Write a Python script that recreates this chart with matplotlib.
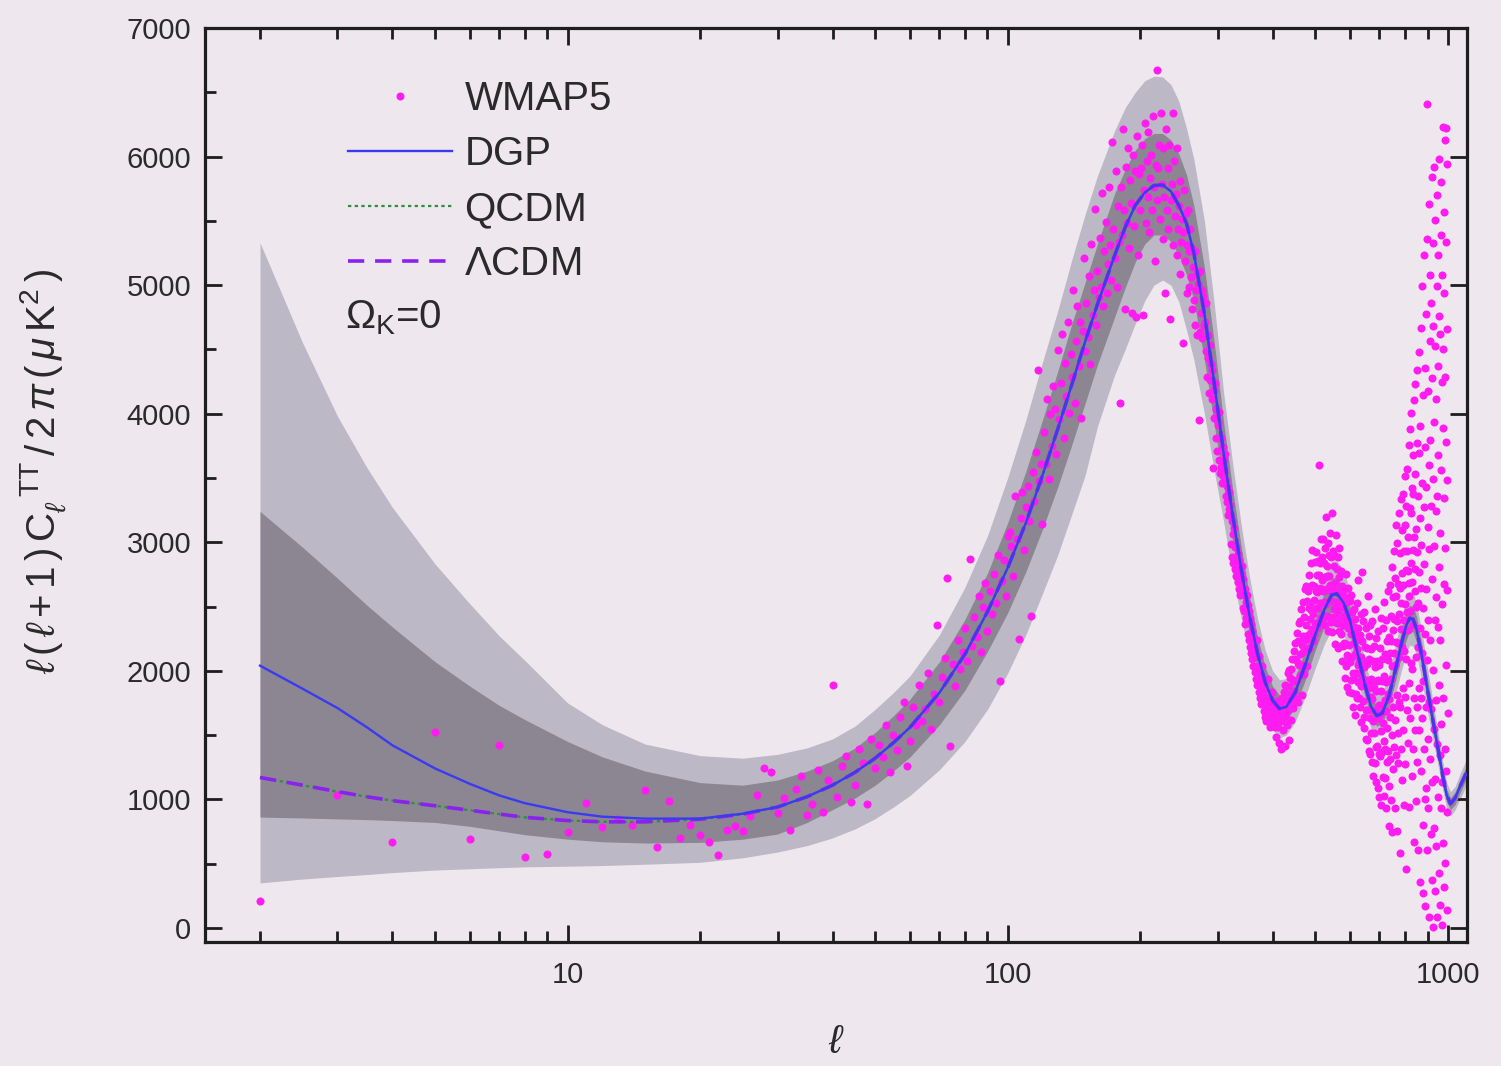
import numpy as np
import matplotlib
matplotlib.use("Agg")
import matplotlib.pyplot as plt
from matplotlib.lines import Line2D

plt.rcParams['font.family'] = ['Liberation Sans', 'DejaVu Sans']
plt.rcParams['mathtext.fontset'] = 'custom'
plt.rcParams['mathtext.rm'] = 'Liberation Sans'
plt.rcParams['mathtext.it'] = 'Liberation Sans:italic'
plt.rcParams['mathtext.bf'] = 'Liberation Sans:bold'

# ---------------- model grid (multipole l) ----------------
ell_grid = [2, 2.5, 3, 3.5, 4, 5, 6, 7, 8, 10,
            12, 15, 20, 25, 30, 35, 40, 45, 50, 55,
            60, 70, 80, 90, 100, 110, 120, 130, 140, 150,
            160, 175, 185, 195, 205, 215, 225, 235, 245, 255,
            265, 280, 295, 310, 325, 340, 355, 370, 385, 400,
            415, 430, 450, 475, 500, 525, 545, 560, 580, 600,
            625, 650, 670, 690, 710, 735, 760, 785, 805, 820,
            835, 850, 875, 900, 925, 950, 975, 995, 1015, 1040,
            1070, 1100]

lcdm_D = [1170, 1110, 1060, 1020, 990, 950, 915, 885, 860, 835,
          825, 825, 845, 885, 940, 1020, 1110, 1210, 1320, 1440,
          1560, 1830, 2130, 2460, 2800, 3150, 3520, 3880, 4230, 4560,
          4850, 5230, 5450, 5620, 5720, 5775, 5780, 5730, 5620, 5480,
          5250, 4780, 4230, 3680, 3200, 2780, 2420, 2130, 1910, 1770,
          1705, 1720, 1830, 2050, 2280, 2480, 2590, 2600, 2530, 2390,
          2130, 1880, 1720, 1650, 1670, 1800, 2000, 2210, 2350, 2410,
          2400, 2320, 2100, 1850, 1620, 1400, 1180, 1030, 965, 1010,
          1110, 1200]

# QCDM coincides with LCDM in the figure
qcdm_D = [1170, 1110, 1060, 1020, 990, 950, 915, 885, 860, 835,
          825, 825, 845, 885, 940, 1020, 1110, 1210, 1320, 1440,
          1560, 1830, 2130, 2460, 2800, 3150, 3520, 3880, 4230, 4560,
          4850, 5230, 5450, 5620, 5720, 5775, 5780, 5730, 5620, 5480,
          5250, 4780, 4230, 3680, 3200, 2780, 2420, 2130, 1910, 1770,
          1705, 1720, 1830, 2050, 2280, 2480, 2590, 2600, 2530, 2390,
          2130, 1880, 1720, 1650, 1670, 1800, 2000, 2210, 2350, 2410,
          2400, 2320, 2100, 1850, 1620, 1400, 1180, 1030, 965, 1010,
          1110, 1200]

# DGP differs only at low l
dgp_low = [2040, 1860, 1710, 1560, 1420, 1240, 1120, 1030, 970, 900, 865, 850, 850, 888]
dgp_D = dgp_low + lcdm_D[len(dgp_low):]

# cosmic-variance bands (outer = light, inner = dark)
outer_hi = [5330, 4550, 3980, 3580, 3270, 2830, 2520, 2270, 2080, 1750,
            1580, 1430, 1340, 1320, 1350, 1400, 1470, 1570, 1700, 1830,
            1960, 2280, 2650, 3050, 3500, 3950, 4400, 4800, 5200, 5550,
            5850, 6200, 6380, 6500, 6590, 6625, 6620, 6560, 6430, 6220,
            5980, 5500, 4850, 4150, 3600, 3120, 2720, 2400, 2160, 2000,
            1930, 1940, 2060, 2290, 2530, 2740, 2850, 2860, 2780, 2620,
            2340, 2070, 1890, 1810, 1830, 1970, 2190, 2410, 2560, 2620,
            2610, 2520, 2290, 2020, 1770, 1530, 1290, 1130, 1060, 1100,
            1210, 1300]
outer_lo = [350, 380, 400, 415, 430, 450, 460, 468, 475, 480,
            485, 495, 510, 545, 590, 640, 700, 770, 850, 940,
            1030, 1230, 1450, 1700, 1980, 2280, 2600, 2900, 3220, 3520,
            3900, 4300, 4500, 4700, 4880, 5000, 5040, 5000, 4870, 4650,
            4420, 4000, 3550, 3150, 2730, 2400, 2110, 1850, 1660, 1540,
            1480, 1500, 1600, 1800, 2020, 2210, 2320, 2340, 2280, 2160,
            1920, 1690, 1550, 1490, 1510, 1630, 1810, 2000, 2140, 2200,
            2190, 2120, 1910, 1680, 1470, 1270, 1070, 930, 870, 920,
            1010, 1100]
inner_hi = [3240, 2960, 2720, 2510, 2340, 2070, 1880, 1730, 1620, 1450,
            1330, 1220, 1130, 1110, 1150, 1220, 1300, 1400, 1520, 1650,
            1780, 2070, 2400, 2760, 3150, 3550, 3950, 4330, 4700, 5020,
            5320, 5710, 5900, 6050, 6140, 6180, 6180, 6130, 6020, 5860,
            5620, 5140, 4550, 3920, 3400, 2950, 2570, 2260, 2030, 1880,
            1810, 1830, 1940, 2170, 2400, 2610, 2720, 2730, 2650, 2500,
            2230, 1970, 1800, 1730, 1750, 1880, 2090, 2310, 2460, 2510,
            2500, 2420, 2190, 1940, 1700, 1470, 1230, 1080, 1010, 1060,
            1160, 1250]
inner_lo = [862, 855, 848, 842, 835, 820, 790, 755, 725, 690,
            670, 660, 665, 690, 730, 820, 920, 1010, 1110, 1220,
            1330, 1580, 1850, 2150, 2450, 2770, 3100, 3430, 3760, 4080,
            4380, 4750, 4980, 5180, 5320, 5390, 5390, 5340, 5230, 5080,
            4880, 4420, 3910, 3430, 3000, 2610, 2270, 2000, 1790, 1660,
            1600, 1610, 1720, 1930, 2160, 2350, 2460, 2470, 2410, 2280,
            2030, 1790, 1640, 1570, 1590, 1720, 1910, 2110, 2240, 2310,
            2300, 2220, 2010, 1760, 1540, 1330, 1130, 980, 920, 960,
            1060, 1150]

# ---------------- WMAP5 points, l = 2 ... 1000 ----------------
wmap_D = [
    210, 1035, 670, 1520, 690, 1425, 550, 575, 745, 970, 785, 845, 800, 1075, 630,
    990, 700, 800, 720, 670, 570, 760, 790, 755, 870, 1035, 1240, 1210, 895,
    # 31-100
    1010, 760, 1080, 1180, 880, 960, 1230, 900, 1150, 1890,
    1020, 1260, 1340, 980, 1110, 1390, 1280, 960, 1470, 1240,
    1420, 1330, 1580, 1210, 1500, 1380, 1640, 1760, 1260, 1450,
    1720, 1580, 1890, 1610, 1700, 1980, 1550, 1820, 2360, 1760,
    1950, 2100, 2720, 1415, 2050, 1880, 2240, 2010, 2150, 2330,
    2080, 2870, 2190, 2420, 2260, 2580, 2150, 2500, 2680, 2310,
    2620, 2440, 2750, 2530, 2900, 1920, 2700, 2860, 2580, 3050,
    # 101-200
    3083, 2968, 2741, 3362, 3027, 2245, 3188, 3391, 2936, 3274,
    3437, 3166, 2424, 3548, 3319, 3702, 4340, 3473, 3612, 3141,
    3861, 3607, 4118, 3489, 3994, 3752, 4213, 4036, 3683, 4497,
    3962, 4237, 4618, 3809, 4391, 4139, 4712, 4008, 4466, 4287,
    4963, 4087, 4562, 4834, 4371, 4713, 3966, 4641, 5214, 4488,
    4861, 4593, 5068, 4387, 5317, 4771, 4962, 5594, 4688, 5113,
    4911, 5363, 4987, 5716, 4839, 5262, 5488, 4941, 5167, 5763,
    5312, 5038, 6114, 5437, 5213, 5889, 4987, 5612, 5338, 4080,
    5762, 5391, 6213, 5588, 4812, 5917, 5486, 6063, 5289, 5814,
    5637, 4780, 6012, 5463, 5886, 4750, 6161, 5238, 5863, 5587,
    # 201-280
    5912, 6087, 4765, 5738, 6263, 5487, 5963, 5688, 6192, 5412,
    5837, 6013, 5588, 6312, 5763, 5187, 5938, 6670, 5662, 5913,
    6087, 5512, 6338, 5787, 5362, 6063, 5688, 4940, 6213, 5588,
    5912, 5437, 6088, 4740, 5662, 5787, 6337, 5312, 5963, 5537,
    5712, 5237, 6063, 5438, 5612, 5087, 5813, 5338, 5512, 4550,
    5412, 5737, 5188, 5563, 4937, 5312, 5587, 4988, 5263, 5437,
    5062, 5287, 4812, 5138, 4887, 5262, 4688, 4963, 5087, 4612,
    5012, 3950, 4637, 5113, 4787, 4962, 4588, 4913, 4687, 4862,
    # 281-430
    4713, 4487, 4862, 4288, 4613, 4437, 4162, 4537, 4263, 4388,
    4112, 4337, 3580, 4188, 3963, 4237, 3812, 4038, 3713, 3937,
    3912, 3637, 4013, 3538, 3812, 3588, 3462, 3737, 3513, 3637,
    3562, 3688, 3362, 3487, 3312, 3438, 3212, 3388, 3262, 3288,
    3212, 2988, 3162, 2888, 3062, 2838, 3112, 2788, 2962, 2738,
    2962, 2738, 2912, 2688, 2862, 2638, 2812, 2588, 2762, 2688,
    2812, 2488, 2712, 2588, 2462, 2638, 2362, 2538, 2412, 2588,
    2512, 2288, 2462, 2238, 2412, 2188, 2362, 2138, 2312, 2088,
    2262, 2038, 2212, 1988, 2162, 1938, 2112, 2238, 1888, 2038,
    2012, 1838, 2112, 1788, 1962, 1738, 1912, 2038, 1788, 1862,
    1812, 1688, 1912, 1638, 1862, 1738, 1612, 1788, 1712, 1938,
    1662, 1738, 1612, 1788, 1562, 1688, 1662, 1838, 1612, 1738,
    1712, 1588, 1662, 1738, 1562, 1688, 1612, 1488, 1762, 1638,
    1562, 1688, 1612, 1438, 1762, 1638, 1612, 1388, 1712, 1788,
    1662, 1538, 1762, 1838, 1612, 1688, 1412, 1888, 1762, 1638,
    # 431-1000
    1817, 1577, 1986, 1692, 1879, 1459, 2004, 1735, 1944, 1619,
    2017, 1777, 1736, 2092, 1929, 1709, 2154, 1835, 2094, 1919,
    2217, 1777, 2086, 2292, 1929, 2059, 1754, 2235, 2044, 2369,
    1967, 2127, 2386, 2042, 2479, 1809, 2204, 2535, 2144, 2269,
    2417, 1977, 2636, 2242, 2179, 2659, 2354, 2035, 2544, 2169,
    2617, 2277, 2486, 2742, 2179, 2509, 2404, 2835, 2294, 2469,
    2667, 2327, 2936, 2442, 2229, 2659, 2554, 2285, 2844, 2369,
    2617, 2927, 2486, 2742, 2329, 2609, 2854, 2485, 2744, 2369,
    3600, 2527, 2836, 2642, 3029, 2409, 2704, 2885, 2394, 2719,
    2617, 3027, 2536, 2842, 2729, 2359, 2954, 2635, 3194, 2519,
    2817, 2427, 2736, 2992, 2629, 2309, 2904, 2735, 2544, 3069,
    2667, 2377, 2886, 2542, 3229, 2659, 2304, 2935, 2644, 2419,
    2817, 2477, 2386, 2892, 2679, 2209, 3054, 2535, 2794, 2369,
    2617, 2177, 2886, 2442, 2729, 2309, 2954, 2485, 2194, 2619,
    2417, 2777, 2286, 2542, 2079, 2659, 2354, 2585, 2194, 2419,
    2217, 2627, 2386, 1942, 2529, 2209, 2754, 2035, 2444, 2119,
    2567, 1877, 2336, 2642, 2079, 2359, 2204, 1835, 2544, 2069,
    2367, 1927, 2286, 2592, 1829, 2109, 2454, 1985, 2344, 1719,
    2217, 2477, 1936, 2342, 2129, 1659, 2404, 1985, 2294, 1819,
    2167, 2527, 1786, 2042, 2329, 1909, 2704, 1785, 2244, 2069,
    1717, 2277, 1986, 2442, 1879, 2109, 1604, 2235, 1944, 2769,
    1767, 2027, 2386, 1642, 2029, 2459, 1554, 2185, 1894, 2069,
    1467, 1927, 2336, 1692, 2179, 1459, 2054, 2585, 1694, 1869,
    2267, 1377, 1886, 2092, 1629, 2359, 1354, 1935, 1794, 2169,
    1517, 1777, 2386, 1292, 2079, 1609, 1904, 1185, 2194, 1519,
    1867, 2477, 1286, 1692, 2029, 1409, 2254, 1135, 1844, 1919,
    1417, 2077, 1636, 1092, 1929, 2309, 1354, 1735, 2044, 1019,
    1667, 2177, 1336, 1842, 1529, 2409, 954, 1735, 2094, 1369,
    1917, 1177, 2336, 1592, 1029, 1959, 1454, 2535, 1394, 1769,
    1167, 2127, 1686, 2392, 929, 1909, 1554, 2235, 1294, 1819,
    2617, 1377, 2086, 792, 1779, 2259, 1104, 2135, 1644, 2669,
    1317, 2427, 1936, 992, 2229, 2809, 1504, 2035, 744, 2319,
    1717, 2577, 1236, 2142, 2929, 1409, 2404, 935, 2044, 2719,
    1617, 2227, 3136, 1342, 2579, 1809, 754, 2385, 2994, 1519,
    2217, 2677, 1286, 2442, 3229, 1759, 2104, 585, 2644, 2919,
    1717, 2327, 3336, 1392, 2529, 2759, 1154, 2185, 3094, 1869,
    2667, 3377, 1536, 2392, 2929, 959, 2154, 3135, 1794, 2519,
    3517, 1277, 2786, 2092, 3279, 459, 2454, 2935, 1694, 3569,
    2317, 2777, 1436, 3042, 2579, 3759, 1904, 2685, 944, 3269,
    2467, 3877, 1636, 2842, 3229, 2059, 4004, 1185, 2694, 3419,
    2017, 3677, 2936, 1392, 3379, 2359, 4104, 1785, 3044, 669,
    2617, 3527, 1536, 2792, 4229, 2109, 3104, 985, 2494, 3769,
    1717, 2927, 4336, 1292, 2529, 3359, 604, 2185, 3694, 1869,
    2767, 4477, 1536, 3192, 2329, 359, 3904, 1785, 2644, 4669,
    1217, 2977, 2136, 4992, 1629, 3459, 804, 2485, 4144, 269,
    1917, 3277, 5236, 1392, 2829, 4359, 1004, 2285, 3744, 169,
    1717, 4777, 2636, 1092, 3429, 5359, 604, 2085, 6410, 1469,
    3117, 4177, 936, 2392, 5629, 1759, 3604, 85, 2944, 4569,
    1317, 5077, 2236, 3792, 729, 4859, 1704, 3285, 5844, 369,
    2717, 4277, 1136, 3492, 5329, 9, 2004, 4685, 1544, 2969,
    5917, 777, 3936, 2392, 4529, 1159, 5504, 285, 3244, 1769,
    4117, 2577, 636, 4992, 1429, 3359, 5704, 85, 2344, 4369,
    1017, 3677, 5236, 1892, 429, 4759, 2804, 5985, 1344, 3069,
    4617, 177, 2236, 5392, 929, 3559, 5804, 1585, 4244, 19,
    2517, 5077, 1136, 3892, 6229, 659, 4504, 1785, 3344, 5569,
    317, 2677, 4936, 1392, 6129, 2959, 504, 4285, 2044, 6220,
    1217, 3777, 5336, 142, 2629, 4659, 904, 3485, 5944, 1669,
]
wmap_l = np.arange(2, 2 + len(wmap_D))

x_ticks = [10, 100, 1000]
x_ticklabels = ['10', '100', '1000']
y_ticks = [0, 1000, 2000, 3000, 4000, 5000, 6000, 7000]

legend_labels = ['WMAP5', 'DGP', 'QCDM', r'$\Lambda$CDM']

# ---------------- figure ----------------
BG = '#efe7ee'
TXT = '#2a2a2a'
fig = plt.figure(figsize=(15.01, 10.66), dpi=100, facecolor=BG)
ax = fig.add_axes([0.1366, 0.1163, 0.8408, 0.8574], facecolor=BG)

ax.fill_between(ell_grid, outer_lo, outer_hi, color='#bdb8c6', lw=0, zorder=1)
ax.fill_between(ell_grid, inner_lo, inner_hi, color='#8b8691', lw=0, zorder=2)

ax.plot(wmap_l, wmap_D, ls='none', marker='o', ms=5.8, mew=0,
        color='#ff1cf0', zorder=3)

ax.plot(ell_grid, qcdm_D, color='#2f8f3f', lw=1.6, ls=(0, (1.5, 1.5)), zorder=4)
ax.plot(ell_grid, lcdm_D, color='#8a22ee', lw=2.6, ls=(0, (4.5, 3)), zorder=5)
ax.plot(ell_grid, dgp_D, color='#3a3af2', lw=1.7, zorder=6)

ax.set_xscale('log')
ax.set_xlim(1.5, 1107)
ax.set_ylim(-110, 7000)

ax.set_xticks(x_ticks)
ax.set_xticklabels(x_ticklabels)
ax.set_yticks(y_ticks)
ax.set_yticks(np.arange(500, 7000, 1000), minor=True)

for sp in ax.spines.values():
    sp.set_linewidth(2.3)
    sp.set_color('#1e1e1e')

ax.tick_params(axis='both', which='major', direction='in', length=12, width=2.0,
               labelsize=21, colors='#1e1e1e', labelcolor=TXT)
ax.tick_params(axis='both', which='minor', direction='in', length=8, width=2.0,
               colors='#1e1e1e')
ax.tick_params(axis='x', which='major', pad=14, top=True)
ax.tick_params(axis='x', which='minor', top=True)
ax.tick_params(axis='y', which='major', pad=10, right=True)
ax.tick_params(axis='y', which='minor', right=False)

ax.set_xlabel(r'$\ell$', fontsize=29, color=TXT, labelpad=24)
ax.set_ylabel(r'$\ell\,(\,\ell\,$+$\,$1$\,$)$\,$C$_{\ell}^{\ \ \mathrm{TT}}$$\,$/$\,$2$\,\pi\,$($\,\mu\,$K$^{2}$$\,$)',
              fontsize=29, color=TXT)
ax.yaxis.set_label_coords(-0.108, 0.515)

handles = [
    Line2D([], [], ls='none', marker='o', ms=5.8, mew=0, color='#ff1cf0'),
    Line2D([], [], color='#3a3af2', lw=1.7),
    Line2D([], [], color='#2f8f3f', lw=1.6, ls=(0, (1.5, 1.5))),
    Line2D([], [], color='#8a22ee', lw=2.6, ls=(0, (4.5, 3))),
]
leg = ax.legend(handles, legend_labels, loc='upper left', bbox_to_anchor=(0.113, 0.943),
                frameon=False, fontsize=29, handlelength=2.6, handletextpad=0.3,
                labelspacing=0.42, borderpad=0, borderaxespad=0, numpoints=1)
for t in leg.get_texts():
    t.set_color(TXT)

ax.text(0.111, 0.683, r'$\Omega_{\mathrm{K}}$=0', transform=ax.transAxes,
        fontsize=29, color=TXT, va='center', ha='left')

fig.savefig('out.png', dpi=100, facecolor=BG)
